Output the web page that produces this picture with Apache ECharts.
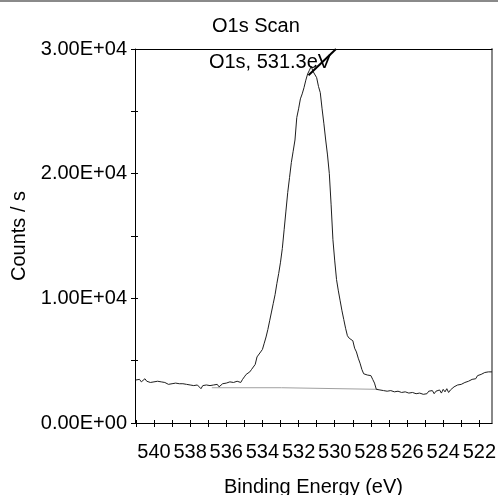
<!DOCTYPE html>
<html>
<head>
<meta charset="utf-8">
<script src="https://cdn.jsdelivr.net/npm/echarts@6/dist/echarts.min.js"></script>
<style>
html,body{margin:0;padding:0;background:#fff;}
#chart{width:498px;height:495px;}
</style>
</head>
<body>
<div id="chart"></div>
<script>
// Binding energy (eV) and counts/s
const energy = [
541.0,540.9,540.8,540.7,540.6,540.5,540.4,540.3,540.2,540.1,540.0,539.9,539.8,539.7,539.6,539.5,
539.4,539.3,539.2,539.1,539.0,538.9,538.8,538.7,538.6,538.5,538.4,538.3,538.2,538.1,538.0,537.9,
537.8,537.7,537.6,537.5,537.4,537.3,537.2,537.1,537.0,536.9,536.8,536.7,536.6,536.5,536.4,536.3,
536.2,536.1,536.0,535.9,535.8,535.7,535.6,535.5,535.4,535.3,535.2,535.1,
535.0,534.9,534.8,534.7,534.6,534.5,534.4,534.3,534.2,534.1,534.0,533.9,533.8,533.7,533.6,533.5,
533.4,533.3,533.2,533.1,533.0,532.9,532.8,532.7,532.6,532.5,532.4,532.3,532.2,532.1,532.0,531.9,
531.8,531.7,531.6,531.5,531.4,531.3,531.2,531.1,531.0,530.9,530.8,530.7,530.6,530.5,530.4,530.3,
530.2,530.1,530.0,529.9,529.8,529.7,529.6,529.5,529.4,529.3,529.2,529.1,529.0,528.9,528.8,528.7,
528.6,528.5,528.4,528.3,528.2,528.1,528.0,527.9,527.8,527.7,
527.6,527.5,527.4,527.3,527.2,527.1,527.0,526.9,526.8,526.7,526.6,526.5,526.4,526.3,526.2,526.1,
526.0,525.9,525.8,525.7,525.6,525.5,525.4,525.3,525.2,525.1,525.0,524.9,524.8,524.7,524.6,524.5,
524.4,524.3,524.2,524.1,524.0,523.9,523.8,523.7,523.6,523.5,523.4,523.3,523.2,523.1,523.0,522.9,
522.8,522.7,522.6,522.5,522.4,522.3,522.2,522.1,522.0,521.9,521.8,521.7,521.6,521.5,521.4,521.3
];
const counts = [
3450,3350,3500,3300,3450,3550,3350,3400,3250,3400,3300,3200,3350,3250,3300,3150,
3250,3200,3100,3250,3150,3050,3200,3100,3150,3000,3150,3050,3100,2950,3050,2900,
3000,2850,3050,2950,2750,3000,2850,3050,2900,3000,2850,3050,2950,3100,2900,3050,
3150,3000,3200,3050,3300,3150,3250,3150,3350,3200,3250,3500,
3700,3900,3800,4100,4300,4400,4700,5300,5400,5700,5900,6400,6900,7500,8200,8900,
9600,10300,11200,12000,12900,14000,15500,17000,18500,19700,20900,21800,22700,24500,25200,26000,
26400,26900,27500,28000,28300,28600,28200,28300,27700,27000,26500,25200,24000,22700,21500,20000,
17500,14700,13000,11500,10600,9800,9000,8300,7600,7000,6800,6700,6600,6000,5700,5200,
4800,4300,3950,3900,3850,3900,3800,3500,3200,2700,
2800,2650,2750,2600,2700,2550,2700,2600,2650,2500,2650,2550,2600,2450,2600,2500,
2550,2400,2550,2450,2500,2350,2500,2400,2550,2300,2450,2350,2550,2400,2600,2350,
2550,2450,2650,2400,2700,2500,2750,2450,2650,2800,2900,2850,3050,2950,3100,3000,
3250,3150,3350,3250,3500,3650,3550,3800,3750,3900,3800,4050,3950,4100,4000,4100
];
// Background (baseline) line
const bgEnergy = [536.8, 532.95, 532.85, 527.6];
const bgCounts = [2830, 2830, 2700, 2700];
// Tick values
const xTickValues = [522,523,524,525,526,527,528,529,530,531,532,533,534,535,536,537,538,539,540,541];
const xLabelValues = [522,524,526,528,530,532,534,536,538,540];
const yTickInterval = 5000;
const yLabelStep = 10000;
// Annotation
const peakLabel = 'O1s, 531.3eV';
const peakLabelPos = [533.58, 28950];
const peakPointer = [[531.45, 27900], [529.93, 30000]];

const FONT = "'Liberation Sans', Arial, sans-serif";
const FS = 20;

function sci(v) {
  if (v % yLabelStep !== 0) return '';
  if (v === 0) return '0.00E+00';
  const e = Math.floor(Math.log10(v));
  const m = v / Math.pow(10, e);
  return m.toFixed(2) + 'E+' + String(e).padStart(2, '0');
}

const chart = echarts.init(document.getElementById('chart'), null, {renderer: 'canvas'});
const xBase = {type: 'value', min: 521.3, max: 541.05, inverse: true, splitLine: {show: false}};
const yBase = {type: 'value', min: 0, max: 30000, interval: yTickInterval, splitLine: {show: false}};

chart.setOption({
  animation: false,
  backgroundColor: '#fff',
  textStyle: {fontFamily: FONT},
  title: {
    text: 'O1s Scan', left: 207, top: 11,
    textStyle: {fontFamily: FONT, fontSize: FS, fontWeight: 'normal', color: '#000'}
  },
  graphic: [{type: 'rect', shape: {x: 0, y: 0, width: 498, height: 2}, style: {fill: '#8a8a8a'}}],
  grid: {left: 135, right: 6, top: 49, bottom: 72, containLabel: false, outerBoundsMode: 'none'},
  xAxis: [
    Object.assign({}, xBase, {
      position: 'bottom',
      name: 'Binding Energy (eV)', nameLocation: 'middle', nameGap: 54,
      nameTextStyle: {fontFamily: FONT, fontSize: FS, color: '#000'},
      axisLine: {show: true, onZero: false, lineStyle: {color: '#000', width: 1}},
      axisTick: {show: true, length: 4, lineStyle: {color: '#000'}, customValues: xTickValues},
      axisLabel: {show: true, margin: 19, fontFamily: FONT, fontSize: FS, color: '#000', customValues: xLabelValues}
    }),
    Object.assign({}, xBase, {
      position: 'bottom',
      axisLine: {show: false, onZero: false},
      axisTick: {show: true, inside: true, length: 3, lineStyle: {color: '#000'}, customValues: xTickValues},
      axisLabel: {show: false}
    }),
    Object.assign({}, xBase, {
      position: 'top',
      axisLine: {show: true, onZero: false, lineStyle: {color: '#000', width: 1}},
      axisTick: {show: false}, axisLabel: {show: false}
    })
  ],
  yAxis: [
    Object.assign({}, yBase, {
      position: 'left',
      name: 'Counts / s', nameLocation: 'middle', nameGap: 104,
      nameTextStyle: {fontFamily: FONT, fontSize: FS, color: '#000'},
      axisLine: {show: true, onZero: false, lineStyle: {color: '#000', width: 1}},
      axisTick: {show: true, length: 4, lineStyle: {color: '#000'}},
      axisLabel: {show: true, margin: 8, fontFamily: FONT, fontSize: FS, color: '#000', formatter: sci}
    }),
    Object.assign({}, yBase, {
      position: 'left',
      axisLine: {show: false, onZero: false},
      axisTick: {show: true, inside: true, length: 3, lineStyle: {color: '#000'}},
      axisLabel: {show: false}
    }),
    Object.assign({}, yBase, {
      position: 'right',
      axisLine: {show: true, onZero: false, lineStyle: {color: '#888', width: 2}},
      axisTick: {show: false}, axisLabel: {show: false}
    })
  ],
  series: [
    {
      type: 'line', xAxisIndex: 0, yAxisIndex: 0,
      data: bgEnergy.map((e, i) => [e, bgCounts[i]]),
      showSymbol: false, lineStyle: {color: '#a0a0a0', width: 1}, z: 2, silent: true
    },
    {
      type: 'line', xAxisIndex: 0, yAxisIndex: 0,
      data: energy.map((e, i) => [e, counts[i]]),
      showSymbol: false, lineStyle: {color: '#1e1e1e', width: 1}, z: 3, silent: true,
      markLine: {
        silent: true, symbol: ['none', 'none'],
        lineStyle: {color: '#000', width: 2, type: 'solid'},
        label: {show: false},
        data: [[{coord: peakPointer[0]}, {coord: peakPointer[1]}]]
      },
      markPoint: {
        silent: true, symbol: 'rect', symbolSize: 1,
        itemStyle: {color: 'rgba(0,0,0,0)'},
        label: {show: true, position: 'inside', formatter: peakLabel, fontFamily: FONT, fontSize: FS, color: '#000'},
        data: [{coord: peakLabelPos}]
      }
    }
  ]
});
</script>
</body>
</html>
